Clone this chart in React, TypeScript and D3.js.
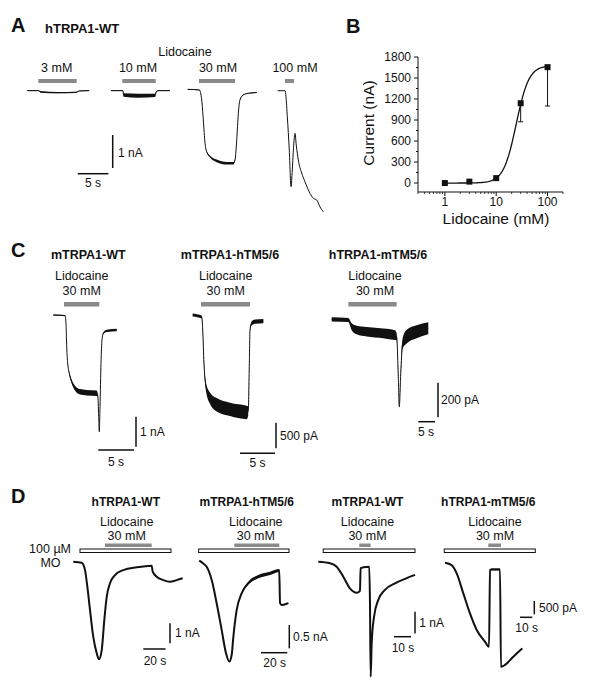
import React from "react";
import * as d3 from "d3";

type Pt = [number, number, number]; // [time s, current nA, noise half-width nA]

const FONT = "'Liberation Sans', Arial, Helvetica, sans-serif";
const GRAY = "#8a8a8a";
const INK = "#111";

// ---------------- Panel B data ----------------
const concB = [1, 3, 10, 30, 100];
const currentB = [0, 20, 70, 1140, 1655];
const errB = [0, 0, 0, 265, 555];
const yTicksB = [0, 300, 600, 900, 1200, 1500, 1800];
const xTicksB = [1, 10, 100];
const hillTop = 1680;
const hillEC50 = 24.5;
const hillN = 3.5;

// ---------------- Panel A data (hTRPA1-WT) ----------------
const concLabelsA = ["3 mM", "10 mM", "30 mM", "100 mM"];
const traceA3: Pt[] = [
  [0, 0, 0.01], [1.8, 0, 0.01], [2.2, -0.04, 0.02], [5, -0.06, 0.02], [8.0, -0.05, 0.02],
  [8.4, -0.01, 0.01], [10.1, 0, 0.01],
];
const traceA10: Pt[] = [
  [0, 0, 0.01], [1.95, 0, 0.01], [2.05, -0.13, 0.05], [4.5, -0.15, 0.06], [7.2, -0.14, 0.05],
  [7.4, -0.03, 0.02], [7.7, 0, 0.01], [9.6, 0, 0.01],
];
const traceA30: Pt[] = [
  [0, 0, 0.01], [1.9, -0.02, 0.01], [2.28, -0.32, 0.01], [2.55, -0.93, 0.01], [2.83, -1.64, 0.01],
  [3.1, -1.89, 0.02], [3.64, -2.04, 0.03], [4.73, -2.17, 0.04], [6.36, -2.24, 0.04], [7.44, -2.24, 0.04],
  [7.72, -2.14, 0.02], [8.0, -1.53, 0.01], [8.26, -0.73, 0.01], [8.53, -0.32, 0.01], [9.07, -0.17, 0.01],
  [9.89, -0.12, 0.01], [11.26, -0.1, 0.01],
];
const traceA100: Pt[] = [
  [0, 0, 0], [1.19, 0, 0], [1.35, -0.18, 0], [1.57, -0.79, 0], [1.89, -1.8, 0], [2.17, -2.91, 0],
  [2.38, -2.4, 0], [2.61, -1.65, 0], [2.82, -1.29, 0], [3.03, -1.65, 0], [3.36, -2.1, 0],
  [3.92, -2.5, 0], [4.45, -2.76, 0], [5.27, -3.11, 0], [5.81, -3.26, 0], [6.36, -3.31, 0],
  [6.9, -3.52, 0], [7.44, -3.67, 0],
];
const tracesA = [traceA3, traceA10, traceA30, traceA100];
const stimA: [number, number][] = [[1.8, 8.06], [1.84, 7.3], [1.84, 7.72], [1.19, 2.66]];

// ---------------- Panel C data (30 mM lidocaine) ----------------
const constructsC = ["mTRPA1-WT", "mTRPA1-hTM5/6", "hTRPA1-mTM5/6"];
const traceC1: Pt[] = [
  [0, 0, 0.02], [1.64, -0.02, 0.02], [1.78, -0.28, 0.02], [1.88, -1.06, 0.02], [2.02, -1.61, 0.03],
  [2.24, -1.94, 0.04], [2.58, -2.22, 0.06], [3.04, -2.44, 0.08], [3.74, -2.56, 0.09], [4.68, -2.59, 0.09],
  [6.09, -2.61, 0.09], [6.23, -2.67, 0.05], [6.37, -3.39, 0.02], [6.45, -3.89, 0.01], [6.55, -3.06, 0.01],
  [6.69, -1.61, 0.01], [6.83, -0.83, 0.02], [7.01, -0.61, 0.03], [7.49, -0.53, 0.04], [8.89, -0.5, 0.04],
];
const traceC2: Pt[] = [
  [0, 0, 0.03], [1.29, -0.04, 0.03], [1.43, -0.29, 0.03], [1.61, -0.94, 0.05], [1.9, -1.4, 0.08],
  [2.47, -1.62, 0.11], [3.43, -1.75, 0.13], [5.33, -1.84, 0.13], [7.71, -1.9, 0.13], [7.94, -1.87, 0.09],
  [8.09, -0.94, 0.03], [8.19, -0.29, 0.03], [8.43, -0.16, 0.04], [8.9, -0.13, 0.04], [10.09, -0.12, 0.04],
];
const traceC3: Pt[] = [
  [0, 0, 0.012], [4.98, -0.004, 0.012], [6.0, -0.043, 0.02], [7.5, -0.062, 0.025], [10.5, -0.072, 0.028],
  [15.5, -0.081, 0.028], [19.0, -0.091, 0.028], [19.5, -0.1, 0.02], [20.0, -0.33, 0.01], [20.3, -0.505, 0.005],
  [20.7, -0.33, 0.01], [21.3, -0.139, 0.03], [22.5, -0.1, 0.04], [25.5, -0.072, 0.038], [29.0, -0.052, 0.035],
];
const tracesC = [traceC1, traceC2, traceC3];
const stimC: [number, number][] = [[1.5, 6.45], [1.19, 8.19], [5.0, 19.5]];

// ---------------- Panel D data (100 µM MO + 30 mM lidocaine) ----------------
const constructsD = ["hTRPA1-WT", "mTRPA1-hTM5/6", "mTRPA1-WT", "hTRPA1-mTM5/6"];
const traceD1: Pt[] = [
  [0, 0, 0], [7.5, -0.05, 0], [10.5, -0.42, 0], [12.6, -1.25, 0], [15.0, -2.42, 0], [17.9, -3.75, 0],
  [21.0, -4.58, 0], [23.0, -4.88, 0], [25.5, -4.42, 0], [27.8, -2.92, 0], [30.0, -1.75, 0],
  [32.9, -1.08, 0], [37.4, -0.67, 0], [44.8, -0.42, 0], [56.9, -0.28, 0], [70.3, -0.2, 0],
  [71.2, -0.5, 0], [74.8, -0.75, 0], [80.7, -0.92, 0], [86.7, -1.0, 0], [92.7, -0.92, 0], [98.1, -0.83, 0],
];
const traceD2: Pt[] = [
  [0, 0, 0.01], [3.0, -0.06, 0.01], [5.6, -0.13, 0.01], [9.4, -0.41, 0.01], [13.2, -0.91, 0.01],
  [17.0, -1.48, 0.01], [20.3, -1.98, 0.01], [22.8, -2.16, 0.01], [24.6, -2.02, 0.01], [25.9, -1.63, 0.01],
  [28.4, -1.06, 0.01], [32.2, -0.7, 0.02], [37.3, -0.48, 0.03], [44.9, -0.34, 0.035], [53.8, -0.27, 0.035],
  [60.8, -0.21, 0.03], [61.4, -0.91, 0.01], [62.7, -0.95, 0.01], [67.7, -0.91, 0.01],
];
const traceD3: Pt[] = [
  [0, 0, 0], [6.9, -0.07, 0], [10.8, -0.23, 0], [14.7, -0.69, 0], [18.6, -1.23, 0], [22.6, -1.43, 0],
  [24.5, -1.34, 0], [24.9, -0.3, 0], [26.5, -0.26, 0], [30.0, -0.23, 0], [30.4, -1.92, 0],
  [30.8, -5.3, 0], [31.4, -3.76, 0], [32.8, -2.53, 0], [35.3, -1.76, 0], [39.2, -1.3, 0],
  [45.1, -1.0, 0], [52.0, -0.76, 0], [56.9, -0.61, 0],
];
const traceD4: Pt[] = [
  [0, 0, 0], [5.4, -0.09, 0], [9.5, -0.4, 0], [14.9, -1.15, 0], [20.3, -1.9, 0], [25.8, -2.52, 0],
  [32.5, -2.96, 0.02], [35.8, -3.15, 0.02], [36.6, -0.27, 0.02], [38.0, -0.25, 0.03], [44.7, -0.25, 0.03],
  [45.5, -3.9, 0.02], [48.8, -3.83, 0.02], [55.5, -3.52, 0.02], [62.8, -3.21, 0.02],
];
const tracesD = [traceD1, traceD2, traceD3, traceD4];
const moD: [number, number][] = [[6.0, 87.6], [-0.5, 68.2], [2.9, 56.9], [-0.6, 73.4]];
const lidoD: [number, number][] = [[28.4, 70.3], [26.6, 60.8], [24.1, 30.8], [35.2, 45.5]];

// scale bars: [current nA, time s, current label, time label]
const barsA: [number, number, string, string] = [1, 5, "1 nA", "5 s"];
const barsC: [number, number, string, string][] = [
  [1, 5, "1 nA", "5 s"], [0.5, 5, "500 pA", "5 s"], [0.2, 5, "200 pA", "5 s"],
];
const barsD: [number, number, string, string][] = [
  [1, 20, "1 nA", "20 s"], [0.5, 20, "0.5 nA", "20 s"], [1, 10, "1 nA", "10 s"], [0.5, 10, "500 pA", "10 s"],
];

// ---------------- Layout ----------------
type Spec = { x0: number; y0: number; sx: number; sy: number };
const layA: Spec[] = [
  { x0: 27.3, y0: 90.7, sx: 6.13, sy: 33 },
  { x0: 111, y0: 90.7, sx: 6.13, sy: 33 },
  { x0: 187.7, y0: 89.3, sx: 6.13, sy: 33 },
  { x0: 277.7, y0: 90.7, sx: 6.13, sy: 33 },
];
const layC: Spec[] = [
  { x0: 53.3, y0: 315, sx: 7.13, sy: 30 },
  { x0: 192.7, y0: 315, sx: 7, sy: 51.3 },
  { x0: 331.7, y0: 319.3, sx: 3.33, sy: 173 },
];
const layD: Spec[] = [
  { x0: 73.3, y0: 561.7, sx: 1.115, sy: 20 },
  { x0: 199.3, y0: 560.7, sx: 1.315, sy: 46.7 },
  { x0: 318.3, y0: 561.7, sx: 1.7, sy: 21.7 },
  { x0: 445, y0: 562.7, sx: 1.23, sy: 26.7 },
];
type SB = { vx: number; vy: number; hx: number; hy: number; ix: number; iy: number; tx: number; ty: number };
const sbA: SB = { vx: 112.7, vy: 135, hx: 77.7, hy: 173.7, ix: 118, iy: 157, tx: 93, ty: 187 };
const sbC: SB[] = [
  { vx: 136, vy: 416.7, hx: 98.3, hy: 450, ix: 140, iy: 436, tx: 116, ty: 466 },
  { vx: 276, vy: 422.7, hx: 240, hy: 453.3, ix: 280, iy: 440, tx: 257.5, ty: 467 },
  { vx: 438, vy: 382.7, hx: 418.3, hy: 421.7, ix: 441, iy: 404, tx: 426, ty: 436 },
];
const sbD: SB[] = [
  { vx: 170, vy: 623.3, hx: 143.3, hy: 649, ix: 175, iy: 637, tx: 155, ty: 665 },
  { vx: 289.3, vy: 625, hx: 261, hy: 652.7, ix: 293, iy: 641, tx: 274.7, ty: 667 },
  { vx: 415, vy: 611.7, hx: 394, hy: 636.7, ix: 419.3, iy: 627, tx: 403, ty: 652 },
  { vx: 534.3, vy: 601, hx: 520, hy: 617.3, ix: 539, iy: 612, tx: 526.7, ty: 632 },
];

function scalesFor(s: Spec) {
  const x = d3.scaleLinear().domain([0, 1]).range([s.x0, s.x0 + s.sx]);
  const y = d3.scaleLinear().domain([0, -1]).range([s.y0, s.y0 + s.sy]);
  return { x, y };
}

function Trace({ data, spec, width }: { data: Pt[]; spec: Spec; width: number }) {
  const { x, y } = scalesFor(spec);
  const line = d3.line<Pt>().x((d) => x(d[0])).y((d) => y(d[1])).curve(d3.curveMonotoneX);
  const area = d3
    .area<Pt>()
    .x((d) => x(d[0]))
    .y0((d) => y(d[1] + d[2]))
    .y1((d) => y(d[1] - d[2]))
    .curve(d3.curveMonotoneX);
  return (
    <g>
      <path d={area(data) || ""} fill={INK} stroke="none" />
      <path d={line(data) || ""} fill="none" stroke={INK} strokeWidth={width} strokeLinejoin="round" />
    </g>
  );
}

function ScaleBar({ spec, sb, bar }: { spec: Spec; sb: SB; bar: [number, number, string, string] }) {
  const { x, y } = scalesFor(spec);
  const vLen = y(-bar[0]) - y(0);
  const hLen = x(bar[1]) - x(0);
  return (
    <g fontFamily={FONT} fontSize={12} fill={INK}>
      <line x1={sb.vx} x2={sb.vx} y1={sb.vy} y2={sb.vy + vLen} stroke={INK} strokeWidth={1.5} />
      <line x1={sb.hx} x2={sb.hx + hLen} y1={sb.hy} y2={sb.hy} stroke={INK} strokeWidth={1.5} />
      <text x={sb.ix} y={sb.iy}>{bar[2]}</text>
      <text x={sb.tx} y={sb.ty} textAnchor="middle">{bar[3]}</text>
    </g>
  );
}

function StimBar({ spec, range, y, h, fill, stroke }: { spec: Spec; range: [number, number]; y: number; h: number; fill: string; stroke?: string }) {
  const { x } = scalesFor(spec);
  return (
    <rect
      x={x(range[0])}
      y={y}
      width={x(range[1]) - x(range[0])}
      height={h}
      fill={fill}
      stroke={stroke || "none"}
      strokeWidth={stroke ? 1 : 0}
    />
  );
}

function PanelB() {
  const x = d3.scaleLog().domain([0.3, 200]).range([418, 563]);
  const y = d3.scaleLinear().domain([-128, 1800]).range([192, 57]);
  const minorX: number[] = [];
  [0.1, 1, 10, 100].forEach((dec) => {
    for (let k = 2; k <= 9; k++) {
      const v = dec * k;
      if (v >= 0.3 && v <= 200) minorX.push(v);
    }
  });
  const minorY = d3.range(150, 1800, 300);
  const curveX = d3.range(0, 2.0001, 0.02).map((e) => Math.pow(10, e));
  const hill = (c: number) => hillTop / (1 + Math.pow(hillEC50 / c, hillN));
  const curve = d3
    .line<number>()
    .x((c) => x(c))
    .y((c) => y(hill(c)));
  return (
    <g fontFamily={FONT} fill={INK}>
      <line x1={418} x2={418} y1={y(1800)} y2={y(-128)} stroke={INK} strokeWidth={1} />
      <line x1={418} x2={563} y1={y(-128)} y2={y(-128)} stroke={INK} strokeWidth={1} />
      {yTicksB.map((t) => (
        <g key={t}>
          <line x1={414} x2={418} y1={y(t)} y2={y(t)} stroke={INK} />
          <text x={411} y={y(t) + 4.3} textAnchor="end" fontSize={12}>{t}</text>
        </g>
      ))}
      {minorY.map((t) => (
        <line key={t} x1={416} x2={418} y1={y(t)} y2={y(t)} stroke={INK} />
      ))}
      {xTicksB.map((t) => (
        <g key={t}>
          <line x1={x(t)} x2={x(t)} y1={192} y2={196} stroke={INK} />
          <text x={x(t)} y={206} textAnchor="middle" fontSize={12}>{t}</text>
        </g>
      ))}
      {minorX.map((t) => (
        <line key={t} x1={x(t)} x2={x(t)} y1={192} y2={194} stroke={INK} strokeWidth={0.8} />
      ))}
      <path d={curve(curveX) || ""} fill="none" stroke={INK} strokeWidth={1.3} />
      {concB.map((c, i) => (
        <g key={c}>
          {errB[i] > 0 && (
            <g stroke={INK} strokeWidth={1}>
              <line x1={x(c)} x2={x(c)} y1={y(currentB[i])} y2={y(currentB[i] - errB[i])} />
              <line x1={x(c) - 2.5} x2={x(c) + 2.5} y1={y(currentB[i] - errB[i])} y2={y(currentB[i] - errB[i])} />
            </g>
          )}
          <rect x={x(c) - 3} y={y(currentB[i]) - 3} width={6} height={6} fill={INK} />
        </g>
      ))}
      <text transform={`translate(374,123) rotate(-90)`} textAnchor="middle" fontSize={15.5}>Current (nA)</text>
      <text x={496} y={224} textAnchor="middle" fontSize={15.5}>Lidocaine (mM)</text>
    </g>
  );
}

export default function App() {
  const concCxA = [56.7, 138, 218, 295];
  const titleCxC = [88.3, 230, 378];
  const lidoCxC = [81.7, 225.7, 375];
  const titleCxD = [125.8, 246.7, 367.5, 488.3];
  const lidoCxD = [126.7, 255.8, 367.5, 495];
  return (
    <svg
      width={600}
      height={696}
      viewBox="0 0 600 696"
      style={{ position: "absolute", left: 0, top: 0, background: "#fff" }}
    >
      <rect width={600} height={696} fill="#fff" />
      <g fontFamily={FONT} fontWeight="bold" fontSize={20} fill={INK}>
        <text x={11} y={32}>A</text>
        <text x={346} y={33}>B</text>
        <text x={11} y={257}>C</text>
        <text x={11} y={503}>D</text>
      </g>

      {/* Panel A */}
      <g fontFamily={FONT} fill={INK}>
        <text x={45} y={33} fontWeight="bold" fontSize={13}>hTRPA1-WT</text>
        <text x={185} y={56} textAnchor="middle" fontSize={12.5}>Lidocaine</text>
        {concLabelsA.map((l, i) => (
          <text key={l} x={concCxA[i]} y={71.5} textAnchor="middle" fontSize={12.5}>{l}</text>
        ))}
      </g>
      {tracesA.map((tr, i) => (
        <g key={i}>
          <StimBar spec={layA[i]} range={stimA[i]} y={79} h={4} fill={GRAY} />
          <Trace data={tr} spec={layA[i]} width={1} />
        </g>
      ))}
      <ScaleBar spec={layA[0]} sb={sbA} bar={barsA} />

      {/* Panel B */}
      <PanelB />

      {/* Panel C */}
      <g fontFamily={FONT} fill={INK}>
        {constructsC.map((c, i) => (
          <g key={c}>
            <text x={titleCxC[i]} y={259} textAnchor="middle" fontWeight="bold" fontSize={12.5}>{c}</text>
            <text x={lidoCxC[i]} y={280} textAnchor="middle" fontSize={12.5}>Lidocaine</text>
            <text x={lidoCxC[i]} y={295} textAnchor="middle" fontSize={12.5}>30 mM</text>
          </g>
        ))}
      </g>
      {tracesC.map((tr, i) => (
        <g key={i}>
          <StimBar spec={layC[i]} range={stimC[i]} y={302} h={4.5} fill={GRAY} />
          <Trace data={tr} spec={layC[i]} width={1} />
          <ScaleBar spec={layC[i]} sb={sbC[i]} bar={barsC[i]} />
        </g>
      ))}

      {/* Panel D */}
      <g fontFamily={FONT} fill={INK}>
        <text x={71} y={553} textAnchor="end" fontSize={12.5}>100 µM</text>
        <text x={50.5} y={566.5} textAnchor="middle" fontSize={12.5}>MO</text>
        {constructsD.map((c, i) => (
          <g key={c + i}>
            <text x={titleCxD[i]} y={506} textAnchor="middle" fontWeight="bold" fontSize={12}>{c}</text>
            <text x={lidoCxD[i]} y={525.5} textAnchor="middle" fontSize={12.5}>Lidocaine</text>
            <text x={lidoCxD[i]} y={539.5} textAnchor="middle" fontSize={12.5}>30 mM</text>
          </g>
        ))}
      </g>
      {tracesD.map((tr, i) => (
        <g key={i}>
          <StimBar spec={layD[i]} range={lidoD[i]} y={543.5} h={3.5} fill={GRAY} />
          <StimBar spec={layD[i]} range={moD[i]} y={549} h={3.5} fill="#fff" stroke={INK} />
          <Trace data={tr} spec={layD[i]} width={2} />
          <ScaleBar spec={layD[i]} sb={sbD[i]} bar={barsD[i]} />
        </g>
      ))}
    </svg>
  );
}
